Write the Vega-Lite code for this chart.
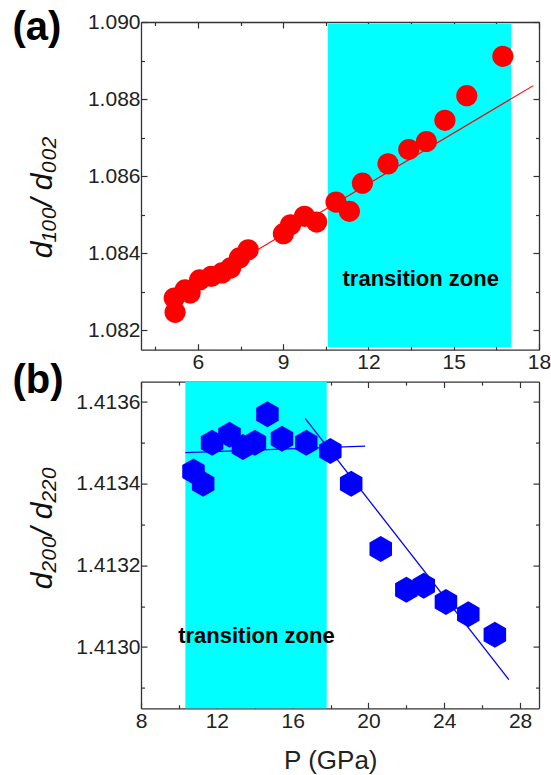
{
  "$schema": "https://vega.github.io/schema/vega-lite/v6.json",
  "padding": {"left": 12, "top": 8, "right": 2, "bottom": 2},
  "background": "white",
  "config": {
    "font": "Liberation Sans",
    "view": {"stroke": null},
    "axis": {
      "zindex": 1,
      "grid": false,
      "domain": true,
      "domainColor": "#333",
      "domainWidth": 1.3,
      "tickColor": "#333",
      "tickWidth": 1.2,
      "labelFont": "Liberation Sans",
      "labelFontSize": 21,
      "labelColor": "#222",
      "labelFlush": false,
      "labelOverlap": false,
      "labelBound": false
    }
  },
  "datasets": {
    "a_points": [
      {"P": 5.20, "ratio": 1.08247}, {"P": 5.17, "ratio": 1.08284}, {"P": 5.55, "ratio": 1.08305},
      {"P": 5.73, "ratio": 1.08297}, {"P": 6.06, "ratio": 1.08331}, {"P": 6.47, "ratio": 1.08340},
      {"P": 6.85, "ratio": 1.08349}, {"P": 7.15, "ratio": 1.08362}, {"P": 7.46, "ratio": 1.08388},
      {"P": 7.77, "ratio": 1.08409}, {"P": 9.01, "ratio": 1.08451}, {"P": 9.26, "ratio": 1.08474},
      {"P": 9.75, "ratio": 1.08496}, {"P": 10.18, "ratio": 1.08481}, {"P": 10.86, "ratio": 1.08533},
      {"P": 11.33, "ratio": 1.08509}, {"P": 11.79, "ratio": 1.08582}, {"P": 12.69, "ratio": 1.08632},
      {"P": 13.42, "ratio": 1.08669}, {"P": 14.04, "ratio": 1.08690}, {"P": 14.69, "ratio": 1.08745},
      {"P": 15.46, "ratio": 1.08809}, {"P": 16.73, "ratio": 1.08911}
    ],
    "a_fit": [{"P": 5.2, "ratio": 1.08282}, {"P": 17.8, "ratio": 1.08835}],
    "a_zone": [{"P_start": 10.57, "P_end": 17.02, "lo": 1.08157, "hi": 1.08995}],
    "a_text": [
      {"label": "transition zone", "P": 13.84, "ratio": 1.08314}
    ],
    "a_tag": [{"label": "(a)", "P": -0.52, "ratio": 1.09036}],
    "b_points": [
      {"P": 10.77, "ratio": 1.41343}, {"P": 11.28, "ratio": 1.41340}, {"P": 11.75, "ratio": 1.41350},
      {"P": 12.67, "ratio": 1.41352}, {"P": 13.38, "ratio": 1.41349}, {"P": 14.01, "ratio": 1.41350},
      {"P": 14.67, "ratio": 1.41357}, {"P": 15.44, "ratio": 1.41351}, {"P": 16.72, "ratio": 1.41350},
      {"P": 17.99, "ratio": 1.41348}, {"P": 19.09, "ratio": 1.41340}, {"P": 20.65, "ratio": 1.41324},
      {"P": 22.00, "ratio": 1.41314}, {"P": 22.92, "ratio": 1.41315}, {"P": 24.09, "ratio": 1.41311},
      {"P": 25.27, "ratio": 1.41308}, {"P": 26.67, "ratio": 1.41303}
    ],
    "b_fit": [
      {"seg": "flat", "P": 10.34, "ratio": 1.413476}, {"seg": "flat", "P": 19.83, "ratio": 1.413492},
      {"seg": "steep", "P": 16.66, "ratio": 1.41356}, {"seg": "steep", "P": 27.41, "ratio": 1.41292}
    ],
    "b_zone": [{"P_start": 10.34, "P_end": 17.8, "lo": 1.41285, "hi": 1.41365}],
    "b_text": [{"label": "transition zone", "P": 14.09, "ratio": 1.41301}],
    "b_tag": [{"label": "(b)", "P": 1.216, "ratio": 1.4137}]
  },
  "vconcat": [
    {
      "width": 398,
      "height": 327.7,
      "resolve": {"axis": {"x": "independent", "y": "independent"}},
      "layer": [
        {
          "data": {"name": "a_zone"},
          "mark": {"type": "rect", "color": "#00ffff"},
          "encoding": {
            "x": {"field": "P_start", "type": "quantitative",
              "scale": {"domain": [4, 18], "nice": false, "zero": false},
              "axis": {
                "orient": "bottom", "title": null,
                "values": [4.5, 6, 7.5, 9, 10.5, 12, 13.5, 15, 16.5, 18],
                "labelExpr": "datum.value % 3 == 0 ? format(datum.value, 'd') : ''",
                "tickSize": {"condition": {"test": "datum.value % 3 == 0", "value": -6}, "value": -3.5},
                "labelPadding": 8
              }},
            "x2": {"field": "P_end"},
            "y": {"field": "lo", "type": "quantitative",
              "scale": {"domain": [1.0815, 1.09], "nice": false, "zero": false},
              "axis": {
                "orient": "left",
                "values": [1.082, 1.083, 1.084, 1.085, 1.086, 1.087, 1.088, 1.089, 1.09],
                "labelExpr": "round(datum.value * 1000) % 2 == 0 ? format(datum.value, '.3f') : ''",
                "tickSize": {"condition": {"test": "round(datum.value * 1000) % 2 == 0", "value": -6}, "value": -3.5},
                "labelPadding": 7,
                "title": "d₁₀₀/ d₀₀₂",
                "titleFont": "Liberation Sans",
                "titleFontStyle": "italic",
                "titleFontWeight": "normal",
                "titleFontSize": 30,
                "titleColor": "#111",
                "titleAngle": 270,
                "titleAlign": "center",
                "titleBaseline": "alphabetic",
                "titleX": -89.5,
                "titleY": 175
              }},
            "y2": {"field": "hi"}
          }
        },
        {
          "data": {"name": "a_fit"},
          "mark": {"type": "line", "color": "#ff0000", "strokeWidth": 1.1},
          "encoding": {
            "x": {"field": "P", "type": "quantitative",
              "scale": {"domain": [4, 18], "nice": false, "zero": false},
              "axis": {
                "orient": "top", "title": null, "labels": false,
                "values": [4.5, 6, 7.5, 9, 10.5, 12, 13.5, 15, 16.5, 18],
                "tickSize": {"condition": {"test": "datum.value % 3 == 0", "value": -6}, "value": -3.5}
              }},
            "y": {"field": "ratio", "type": "quantitative",
              "scale": {"domain": [1.0815, 1.09], "nice": false, "zero": false},
              "axis": {
                "orient": "right", "title": null, "labels": false,
                "values": [1.082, 1.083, 1.084, 1.085, 1.086, 1.087, 1.088, 1.089, 1.09],
                "tickSize": {"condition": {"test": "round(datum.value * 1000) % 2 == 0", "value": -6}, "value": -3.5}
              }}
          }
        },
        {
          "data": {"name": "a_points"},
          "mark": {"type": "point", "shape": "circle", "filled": true, "color": "#ff0000", "opacity": 1, "size": 450},
          "encoding": {
            "x": {"field": "P", "type": "quantitative", "scale": {"domain": [4, 18], "nice": false, "zero": false}, "axis": null},
            "y": {"field": "ratio", "type": "quantitative", "scale": {"domain": [1.0815, 1.09], "nice": false, "zero": false}, "axis": null}
          }
        },
        {
          "data": {"name": "a_text"},
          "mark": {"type": "text", "font": "Liberation Sans", "fontWeight": "bold", "fontSize": 22, "color": "#000", "align": "center", "baseline": "alphabetic"},
          "encoding": {
            "x": {"field": "P", "type": "quantitative", "scale": {"domain": [4, 18], "nice": false, "zero": false}, "axis": null},
            "y": {"field": "ratio", "type": "quantitative", "scale": {"domain": [1.0815, 1.09], "nice": false, "zero": false}, "axis": null},
            "text": {"field": "label"}
          }
        },
        {
          "data": {"name": "a_tag"},
          "mark": {"type": "text", "font": "Liberation Sans", "fontWeight": "bold", "fontSize": 40, "color": "#000", "align": "left", "baseline": "top", "clip": false},
          "encoding": {
            "x": {"field": "P", "type": "quantitative", "scale": {"domain": [4, 18], "nice": false, "zero": false}, "axis": null},
            "y": {"field": "ratio", "type": "quantitative", "scale": {"domain": [1.0815, 1.09], "nice": false, "zero": false}, "axis": null},
            "text": {"field": "label"}
          }
        }
      ]
    },
    {
      "width": 398,
      "height": 326.7,
      "resolve": {"axis": {"x": "independent", "y": "independent"}},
      "layer": [
        {
          "data": {"name": "b_zone"},
          "mark": {"type": "rect", "color": "#00ffff"},
          "encoding": {
            "x": {"field": "P_start", "type": "quantitative",
              "scale": {"domain": [8, 29], "nice": false, "zero": false},
              "axis": {
                "orient": "bottom",
                "values": [8, 10, 12, 14, 16, 18, 20, 22, 24, 26, 28],
                "labelExpr": "datum.value % 4 == 0 ? format(datum.value, 'd') : ''",
                "tickSize": {"condition": {"test": "datum.value % 4 == 0", "value": -6}, "value": -3.5},
                "labelPadding": 8,
                "title": "P (GPa)",
                "titleFont": "Liberation Sans",
                "titleFontWeight": "normal",
                "titleFontSize": 26,
                "titleColor": "#222",
                "titleAlign": "center",
                "titleBaseline": "alphabetic",
                "titleX": 189.3,
                "titleY": 60
              }},
            "x2": {"field": "P_end"},
            "y": {"field": "lo", "type": "quantitative",
              "scale": {"domain": [1.41285, 1.41365], "nice": false, "zero": false},
              "axis": {
                "orient": "left",
                "values": [1.4129, 1.413, 1.4131, 1.4132, 1.4133, 1.4134, 1.4135, 1.4136],
                "labelExpr": "round(datum.value * 10000) % 2 == 0 ? format(datum.value, '.4f') : ''",
                "tickSize": {"condition": {"test": "round(datum.value * 10000) % 2 == 0", "value": -6}, "value": -3.5},
                "labelPadding": 7,
                "title": "d₂₀₀/ d₂₂₀",
                "titleFont": "Liberation Sans",
                "titleFontStyle": "italic",
                "titleFontWeight": "normal",
                "titleFontSize": 30,
                "titleColor": "#111",
                "titleAngle": 270,
                "titleAlign": "center",
                "titleBaseline": "alphabetic",
                "titleX": -90,
                "titleY": 146
              }},
            "y2": {"field": "hi"}
          }
        },
        {
          "data": {"name": "b_fit"},
          "mark": {"type": "line", "color": "#0000ff", "strokeWidth": 1.3},
          "encoding": {
            "detail": {"field": "seg"},
            "x": {"field": "P", "type": "quantitative",
              "scale": {"domain": [8, 29], "nice": false, "zero": false},
              "axis": {
                "orient": "top", "title": null, "labels": false,
                "values": [8, 10, 12, 14, 16, 18, 20, 22, 24, 26, 28],
                "tickSize": {"condition": {"test": "datum.value % 4 == 0", "value": -6}, "value": -3.5}
              }},
            "y": {"field": "ratio", "type": "quantitative",
              "scale": {"domain": [1.41285, 1.41365], "nice": false, "zero": false},
              "axis": {
                "orient": "right", "title": null, "labels": false,
                "values": [1.4129, 1.413, 1.4131, 1.4132, 1.4133, 1.4134, 1.4135, 1.4136],
                "tickSize": {"condition": {"test": "round(datum.value * 10000) % 2 == 0", "value": -6}, "value": -3.5}
              }}
          }
        },
        {
          "data": {"name": "b_points"},
          "mark": {"type": "point", "shape": "M0,-1L0.866,-0.5L0.866,0.5L0,1L-0.866,0.5L-0.866,-0.5Z", "filled": true, "color": "#0000ff", "opacity": 1, "size": 676},
          "encoding": {
            "x": {"field": "P", "type": "quantitative", "scale": {"domain": [8, 29], "nice": false, "zero": false}, "axis": null},
            "y": {"field": "ratio", "type": "quantitative", "scale": {"domain": [1.41285, 1.41365], "nice": false, "zero": false}, "axis": null}
          }
        },
        {
          "data": {"name": "b_text"},
          "mark": {"type": "text", "font": "Liberation Sans", "fontWeight": "bold", "fontSize": 22, "color": "#000", "align": "center", "baseline": "alphabetic"},
          "encoding": {
            "x": {"field": "P", "type": "quantitative", "scale": {"domain": [8, 29], "nice": false, "zero": false}, "axis": null},
            "y": {"field": "ratio", "type": "quantitative", "scale": {"domain": [1.41285, 1.41365], "nice": false, "zero": false}, "axis": null},
            "text": {"field": "label"}
          }
        },
        {
          "data": {"name": "b_tag"},
          "mark": {"type": "text", "font": "Liberation Sans", "fontWeight": "bold", "fontSize": 40, "color": "#000", "align": "left", "baseline": "top", "clip": false},
          "encoding": {
            "x": {"field": "P", "type": "quantitative", "scale": {"domain": [8, 29], "nice": false, "zero": false}, "axis": null},
            "y": {"field": "ratio", "type": "quantitative", "scale": {"domain": [1.41285, 1.41365], "nice": false, "zero": false}, "axis": null},
            "text": {"field": "label"}
          }
        }
      ]
    }
  ],
  "bounds": "flush",
  "spacing": 31.6
}
